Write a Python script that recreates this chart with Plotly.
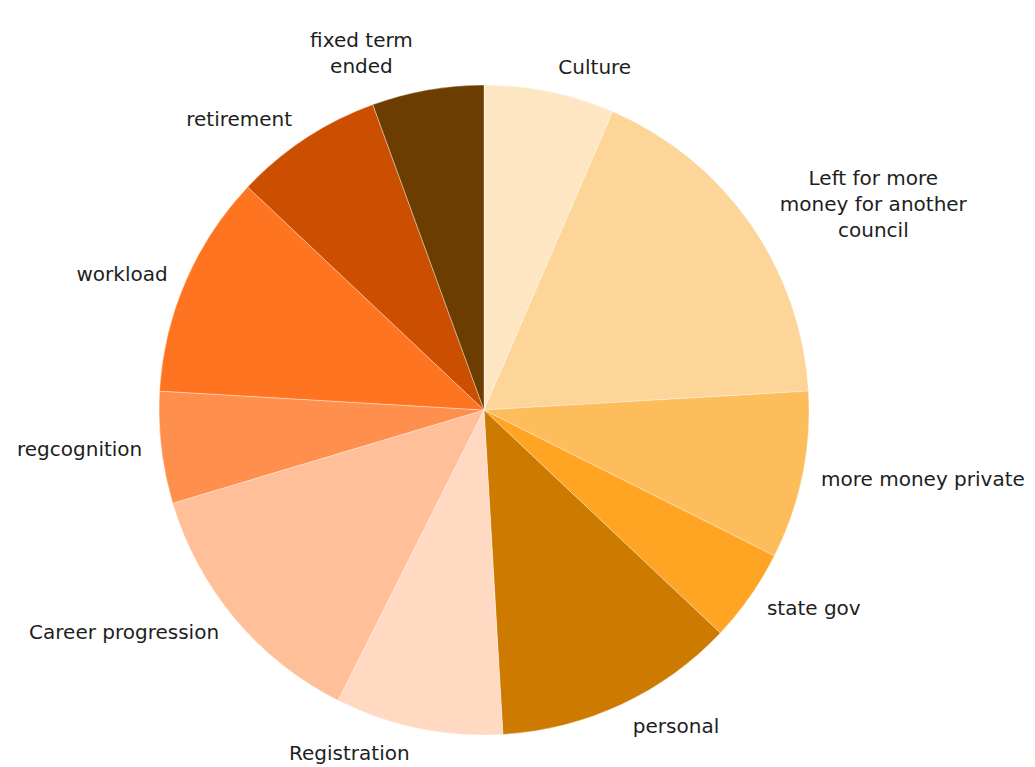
import plotly.graph_objects as go

labels = ["Culture", "Left for more<br>money for another<br>council", "more money private",
          "state gov", "personal", "Registration", "Career progression", "regcognition",
          "workload", "retirement", "fixed term<br>ended"]
values = [7, 19, 9, 5, 13, 9, 14, 6, 12, 8, 6]
colors = ["#FFE6C2", "#FDD598", "#FDBD5A", "#FFA423", "#CC7A00", "#FFD9C2",
          "#FFBF99", "#FF8F4D", "#FF7420", "#CC4E00", "#6B3D00"]

fig = go.Figure()
# visible pie
fig.add_trace(go.Pie(
    labels=labels, values=values, sort=False, direction="clockwise", rotation=0,
    marker=dict(colors=colors, line=dict(color="rgba(255,255,255,0.6)", width=0.6)),
    textinfo="none", hole=0, showlegend=False, automargin=False,
    domain=dict(x=[0, 1], y=[25 / 700, 675 / 700]),
))
# transparent, slightly larger pie that only carries the outside labels
fig.add_trace(go.Pie(
    labels=labels, values=values, sort=False, direction="clockwise", rotation=0,
    marker=dict(colors=["rgba(0,0,0,0)"] * len(values), line=dict(width=0)),
    textinfo="label", textposition="outside",
    textfont=dict(family="DejaVu Sans", size=20, color="#1e1e1e"),
    hoverinfo="skip", hole=0, showlegend=False, automargin=False,
    domain=dict(x=[0, 1], y=[12 / 700, 688 / 700]),
))
fig.update_layout(
    width=1035, height=767, paper_bgcolor="white", plot_bgcolor="white",
    margin=dict(l=100, r=167, t=60, b=7),
    showlegend=False,
)
fig.write_html("out.html")
